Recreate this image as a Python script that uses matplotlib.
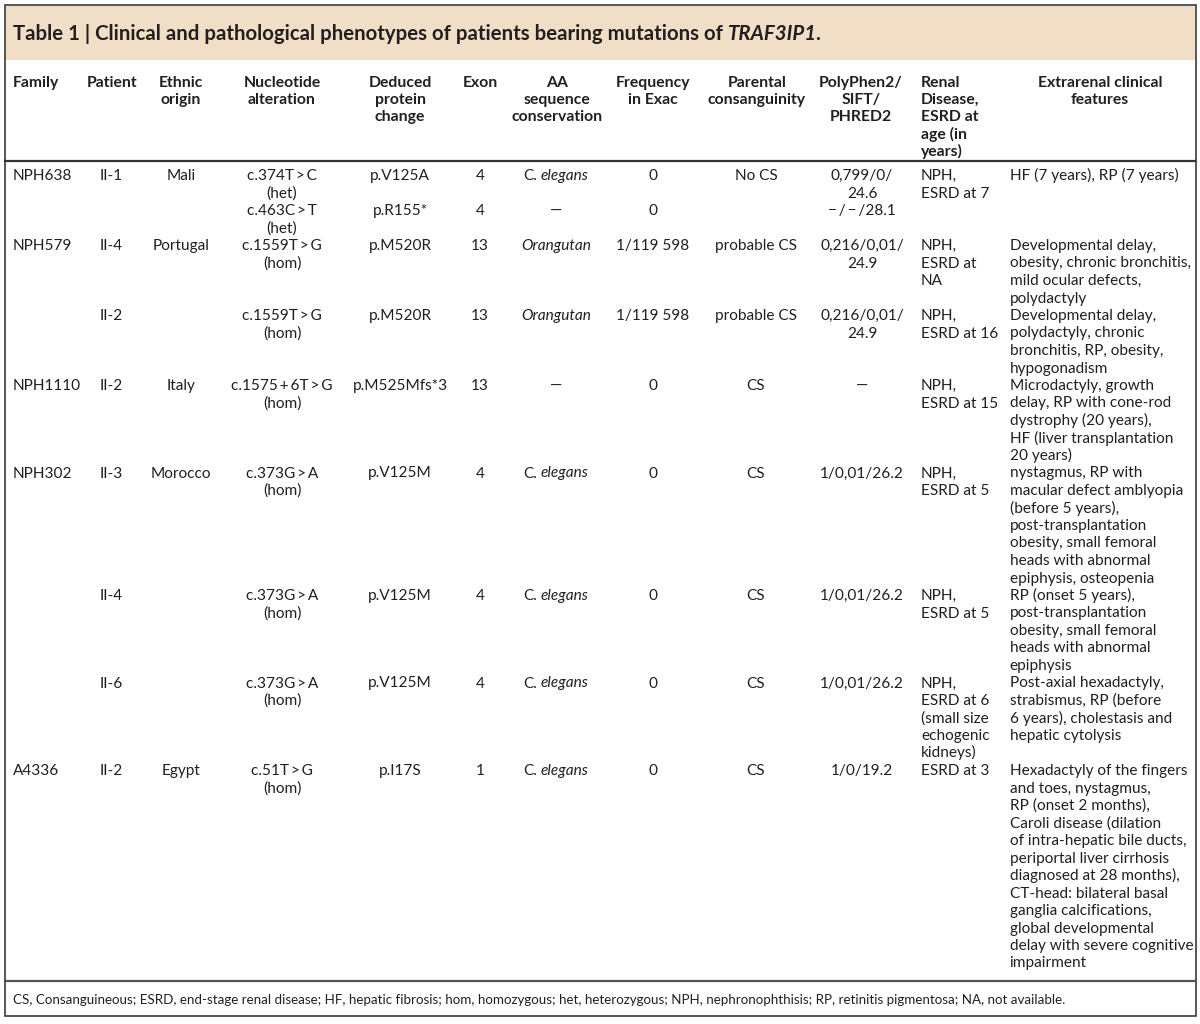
import matplotlib
matplotlib.use("Agg")
from matplotlib import pyplot as plt
from matplotlib.patches import Rectangle

FONT = ["Lato", "DejaVu Sans"]
TEXT = "#231f20"
BAND = "#f1dec6"
BODY = 11.1
HEAD = 11.3
ROW_H = 17.5

title_text = "Table 1 | Clinical and pathological phenotypes of patients bearing mutations of"
title_gene = "TRAF3IP1"

headers = [["Family"], ["Patient"], ["Ethnic", "origin"], ["Nucleotide", "alteration"],
           ["Deduced", "protein", "change"], ["Exon"], ["AA", "sequence", "conservation"],
           ["Frequency", "in Exac"], ["Parental", "consanguinity"],
           ["PolyPhen2/", "SIFT/", "PHRED2"],
           ["Renal", "Disease,", "ESRD at", "age (in", "years)"],
           ["Extrarenal clinical", "features"]]

family = ["NPH638", "", "NPH579", "", "NPH1110", "NPH302", "", "", "A4336"]
patient = ["II-1", "", "II-4", "II-2", "II-2", "II-3", "II-4", "II-6", "II-2"]
origin = ["Mali", "", "Portugal", "", "Italy", "Morocco", "", "", "Egypt"]
nucleotide = ["c.374T\u2009>\u2009C\n(het)", "c.463C\u2009>\u2009T\n(het)",
              "c.1559T\u2009>\u2009G\n(hom)", "c.1559T\u2009>\u2009G\n(hom)",
              "c.1575\u2009+\u20096T\u2009>\u2009G\n(hom)", "c.373G\u2009>\u2009A\n(hom)",
              "c.373G\u2009>\u2009A\n(hom)", "c.373G\u2009>\u2009A\n(hom)",
              "c.51T\u2009>\u2009G\n(hom)"]
protein = ["p.V125A", "p.R155*", "p.M520R", "p.M520R", "p.M525Mfs*3",
           "p.V125M", "p.V125M", "p.V125M", "p.I17S"]
exon = ["4", "4", "13", "13", "13", "4", "4", "4", "1"]
conservation = ["C. elegans", "\u2014", "Orangutan", "Orangutan", "\u2014",
                "C. elegans", "C. elegans", "C. elegans", "C. elegans"]
frequency = ["0", "0", "1/119 598", "1/119 598", "0", "0", "0", "0", "0"]
consanguinity = ["No CS", "", "probable CS", "probable CS", "CS", "CS", "CS", "CS", "CS"]
polyphen = ["0,799/0/\n24.6", "\u2212\u2009/\u2009\u2212\u2009/28.1", "0,216/0,01/\n24.9",
            "0,216/0,01/\n24.9", "\u2014", "1/0,01/26.2", "1/0,01/26.2", "1/0,01/26.2",
            "1/0/19.2"]
renal = ["NPH,\nESRD at 7", "", "NPH,\nESRD at\nNA", "NPH,\nESRD at 16", "NPH,\nESRD at 15",
         "NPH,\nESRD at 5", "NPH,\nESRD at 5",
         "NPH,\nESRD at 6\n(small size\nechogenic\nkidneys)", "ESRD at 3"]
extrarenal = [
    "HF (7 years), RP (7 years)",
    "",
    "Developmental delay,\nobesity, chronic bronchitis,\nmild ocular defects,\npolydactyly",
    "Developmental delay,\npolydactyly, chronic\nbronchitis, RP, obesity,\nhypogonadism",
    "Microdactyly, growth\ndelay, RP with cone-rod\ndystrophy (20 years),\n"
    "HF (liver transplantation\n20 years)",
    "nystagmus, RP with\nmacular defect amblyopia\n(before 5 years),\npost-transplantation\n"
    "obesity, small femoral\nheads with abnormal\nepiphysis, osteopenia",
    "RP (onset 5 years),\npost-transplantation\nobesity, small femoral\n"
    "heads with abnormal\nepiphysis",
    "Post-axial hexadactyly,\nstrabismus, RP (before\n6 years), cholestasis and\n"
    "hepatic cytolysis",
    "Hexadactyly of the fingers\nand toes, nystagmus,\nRP (onset 2 months),\n"
    "Caroli disease (dilation\nof intra-hepatic bile ducts,\nperiportal liver cirrhosis\n"
    "diagnosed at 28 months),\nCT-head: bilateral basal\nganglia calcifications,\n"
    "global developmental\ndelay with severe cognitive\nimpairment"]

italic_words = {"elegans", "Orangutan"}

footnote = ("CS, Consanguineous; ESRD, end-stage renal disease; HF, hepatic fibrosis; "
            "hom, homozygous; het, heterozygous; NPH, nephronophthisis; "
            "RP, retinitis pigmentosa; NA, not available.")

columns = [family, patient, origin, nucleotide, protein, exon, conservation,
           frequency, consanguinity, polyphen, renal, extrarenal]
col_x = [13, 111, 181, 282, 400, 480, 556, 653, 756, 862, 921, 1009.5]
col_ha = ["left"] + ["center"] * 9 + ["left", "left"]
head_x = [13, 112, 181, 282, 400, 480, 557, 653, 757, 861, 921, 1100]
head_ha = ["left"] + ["center"] * 9 + ["left", "center"]

fig = plt.figure(figsize=(12, 10.24), dpi=100)
ax = fig.add_axes([0, 0, 1, 1])
ax.set_xlim(0, 1200)
ax.set_ylim(1024, 0)
ax.axis("off")
renderer = fig.canvas.get_renderer()


def width_of(s, **kw):
    t = ax.text(0, 0, s, family=FONT, **kw)
    w = t.get_window_extent(renderer).width
    t.remove()
    return w


def draw_runs(x, y, runs, ha="left", size=BODY, weight="normal"):
    # runs: list of (text, style, gap before)
    items = []
    for s, style, gap in runs:
        t = ax.text(0, y, s, family=FONT, fontsize=size, fontstyle=style,
                    fontweight=weight, va="baseline", color=TEXT)
        items.append((t, gap, t.get_window_extent(renderer).width))
    total = sum(g + w for _, g, w in items)
    pos = x - total / 2 if ha == "center" else x
    for t, g, w in items:
        pos += g
        t.set_x(pos)
        pos += w


space = width_of("x x", fontsize=BODY) - width_of("xx", fontsize=BODY)


def draw_line(x, y, line, ha, size=BODY, weight="normal"):
    words = line.split(" ")
    if any(w in italic_words for w in words):
        runs = [(w, "italic" if w in italic_words else "normal", 0 if i == 0 else space)
                for i, w in enumerate(words)]
        draw_runs(x, y, runs, ha, size, weight)
    else:
        ax.text(x, y, line, family=FONT, fontsize=size, fontweight=weight,
                ha=ha, va="baseline", color=TEXT)


# frame and title band
ax.add_patch(Rectangle((5, 6), 1190, 54, facecolor=BAND, edgecolor="none"))
ax.add_patch(Rectangle((4.5, 4.5), 1191, 1011.5, facecolor="none", edgecolor="#3a3a3a", lw=1.2))
TITLE = 14.7
sp_title = width_of("x x", fontsize=TITLE, fontweight="bold") - width_of("xx", fontsize=TITLE, fontweight="bold")
draw_runs(13, 39.5, [(title_text, "normal", 0), (title_gene, "italic", sp_title), (".", "normal", -1.5)],
          size=TITLE, weight="bold")

# header
for lines, x, ha in zip(headers, head_x, head_ha):
    for k, line in enumerate(lines):
        draw_line(x, 87 + k * 17.2, line, ha, size=HEAD, weight="bold")
ax.plot([5, 1195], [161, 161], color="#333333", lw=1.6)

# body rows, each row as tall as its longest cell
y = 180
for r in range(len(family)):
    n = max(len(col[r].split("\n")) for col in columns)
    for col, x, ha in zip(columns, col_x, col_ha):
        if not col[r]:
            continue
        for k, line in enumerate(col[r].split("\n")):
            draw_line(x, y + k * ROW_H, line, ha)
    y += n * ROW_H

ax.plot([5, 1195], [981, 981], color="#555555", lw=1.6)
ax.text(13, 1004, footnote, family=FONT, fontsize=9.6, va="baseline", color=TEXT)

fig.savefig("out.png", dpi=100)
